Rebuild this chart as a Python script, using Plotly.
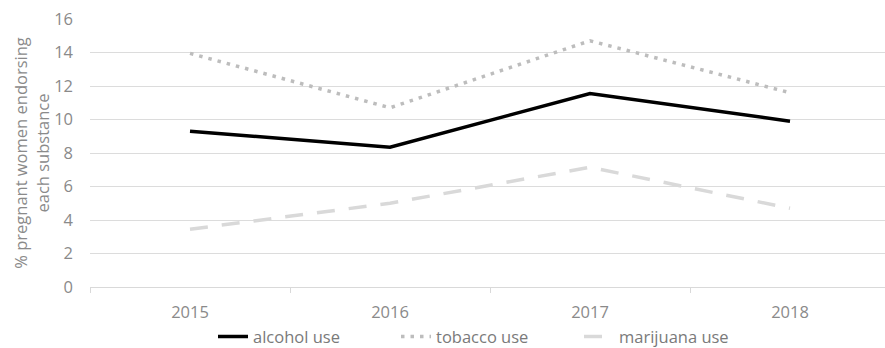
import plotly.graph_objects as go

years = ["2015", "2016", "2017", "2018"]
alcohol = [9.3, 8.35, 11.55, 9.9]
tobacco = [13.95, 10.7, 14.7, 11.6]
marijuana = [3.45, 5.0, 7.15, 4.7]
y_ticks = [0, 2, 4, 6, 8, 10, 12, 14, 16]

FONT = "Open Sans"
TXT = "#8a8a8a"
FS = 16.5

fig = go.Figure()
fig.add_trace(go.Scatter(x=years, y=alcohol, mode="lines", name="alcohol use",
                         line=dict(color="#000000", width=3.5)))
fig.add_trace(go.Scatter(x=years, y=tobacco, mode="lines", name="tobacco use",
                         line=dict(color="#bdbdbd", width=3.5, dash="3.5px,6px")))
fig.add_trace(go.Scatter(x=years, y=marijuana, mode="lines", name="marijuana use",
                         line=dict(color="#d9d9d9", width=3.5, dash="18px,14px")))

fig.update_layout(
    width=885, height=348,
    margin=dict(l=90, r=0, t=19, b=61, autoexpand=False),
    paper_bgcolor="white", plot_bgcolor="white",
    font=dict(family=FONT, size=FS, color=TXT),
    showlegend=True,
    legend=dict(orientation="h", x=0.5, xanchor="center",
                yref="container", y=0.032, yanchor="middle",
                bgcolor="rgba(0,0,0,0)",
                font=dict(family=FONT, size=FS, color="#7a7a7a"),
                entrywidth=138, entrywidthmode="pixels", itemwidth=30),
    xaxis=dict(type="category", range=[-0.5, 3.475], showgrid=False, automargin=False,
               showline=True, linecolor="#d9d9d9", linewidth=1.2,
               ticks="outside", ticklen=5, tickcolor="#d9d9d9", tickson="boundaries",
               ticklabelstandoff=10,
               tickfont=dict(family=FONT, size=FS, color=TXT)),
    yaxis=dict(range=[0, 16], tickvals=y_ticks, showgrid=True, gridcolor="#dcdcdc",
               gridwidth=1.2, zeroline=False, showline=False, ticks="", automargin=False,
               ticklabelstandoff=16,
               tickfont=dict(family=FONT, size=FS, color=TXT),
               title=dict(text="% pregnant women endorsing<br>each substance",
                          font=dict(family=FONT, size=FS, color=TXT), standoff=0)),
)

fig.write_html("out.html")
